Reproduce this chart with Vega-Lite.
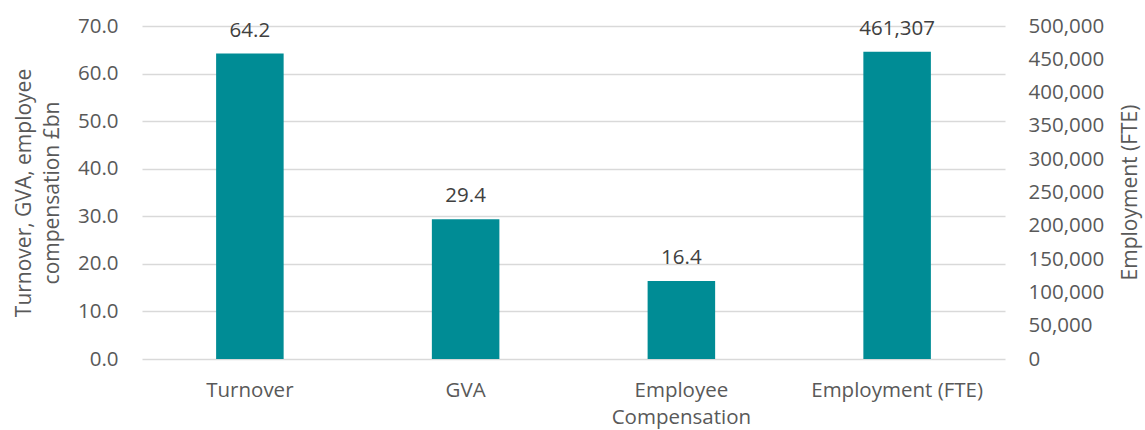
{
  "$schema": "https://vega.github.io/schema/vega-lite/v6.json",
  "width": 863,
  "height": 333,
  "autosize": {"type": "none"},
  "padding": {"left": 142, "top": 26, "right": 140, "bottom": 71},
  "background": "white",
  "config": {
    "view": {"stroke": null},
    "font": "Open Sans",
    "axis": {
      "labelFont": "Open Sans",
      "titleFont": "Open Sans",
      "labelColor": "#595959",
      "titleColor": "#595959",
      "labelFontSize": 20.5,
      "titleFontSize": 21,
      "titleFontWeight": "normal",
      "ticks": false,
      "domain": false
    }
  },
  "data": {
    "values": [
      {"category": "Turnover", "value": 64.2, "axis": "left", "label": "64.2"},
      {"category": "GVA", "value": 29.4, "axis": "left", "label": "29.4"},
      {"category": "Employee Compensation", "value": 16.4, "axis": "left", "label": "16.4"},
      {"category": "Employment (FTE)", "value": 461307, "axis": "right", "label": "461,307"}
    ]
  },
  "encoding": {
    "x": {
      "field": "category",
      "type": "nominal",
      "sort": ["Turnover", "GVA", "Employee Compensation", "Employment (FTE)"],
      "scale": {"paddingInner": 0.687, "paddingOuter": 0.3435},
      "axis": {
        "title": null,
        "labelAngle": 0,
        "labelPadding": 21,
        "labelLineHeight": 27,
        "grid": false,
        "labelExpr": "datum.label == 'Employee Compensation' ? ['Employee', 'Compensation'] : datum.label"
      }
    }
  },
  "layer": [
    {
      "transform": [{"filter": "datum.axis == 'left'"}],
      "encoding": {
        "y": {
          "field": "value",
          "type": "quantitative",
          "scale": {"domain": [0, 70], "nice": false},
          "axis": {
            "orient": "left",
            "values": [0, 10, 20, 30, 40, 50, 60, 70],
            "format": ".1f",
            "grid": true,
            "gridColor": "#d9d9d9",
            "gridWidth": 1.3,
            "labelPadding": 24,
            "title": ["Turnover, GVA, employee", "compensation £bn"],
            "titlePadding": 15,
            "titleLineHeight": 28
          }
        }
      },
      "layer": [
        {"mark": {"type": "bar", "color": "#008C95"}},
        {"mark": {"type": "text", "dy": -17, "baseline": "alphabetic", "fontSize": 20.5, "color": "#404040", "font": "Open Sans"}, "encoding": {"text": {"field": "label"}}}
      ]
    },
    {
      "transform": [{"filter": "datum.axis == 'right'"}],
      "encoding": {
        "y": {
          "field": "value",
          "type": "quantitative",
          "scale": {"domain": [0, 500000], "nice": false},
          "axis": {
            "orient": "right",
            "values": [0, 50000, 100000, 150000, 200000, 250000, 300000, 350000, 400000, 450000, 500000],
            "format": ",d",
            "grid": false,
            "labelPadding": 23,
            "title": "Employment (FTE)",
            "titleAngle": -90,
            "titleX": 125,
            "titleY": 166,
            "titleAlign": "center",
            "titleBaseline": "middle"
          }
        }
      },
      "layer": [
        {"mark": {"type": "bar", "color": "#008C95"}},
        {"mark": {"type": "text", "dy": -17, "baseline": "alphabetic", "fontSize": 20.5, "color": "#404040", "font": "Open Sans"}, "encoding": {"text": {"field": "label"}}}
      ]
    }
  ],
  "resolve": {"scale": {"y": "independent"}}
}
